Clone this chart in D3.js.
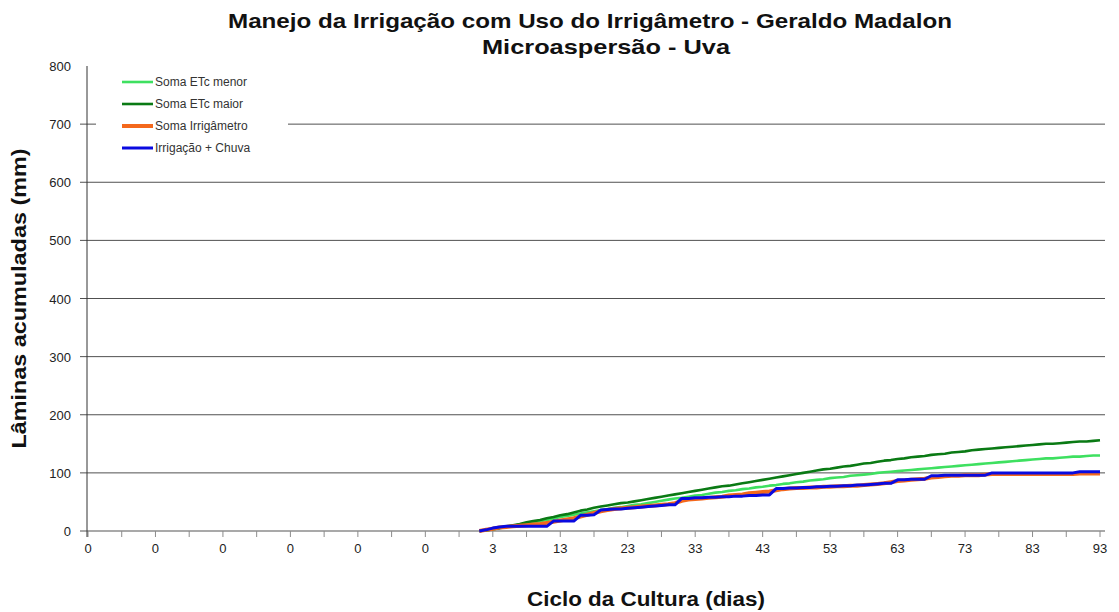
<!DOCTYPE html>
<html>
<head>
<meta charset="utf-8">
<script src="https://cdn.jsdelivr.net/npm/d3@7"></script>
<style>
  body { margin: 0; background: #fff; }
  svg { font-family: "Liberation Sans", Arial, sans-serif; }
</style>
</head>
<body>
<svg id="chart" width="1119" height="612"></svg>
<script>
// rotulos do eixo x (um a cada 10 posicoes)
var rotulosX = ['0','0','0','0','0','0','3','13','23','33','43','53','63','73','83','93'];
var ticksY = [0, 100, 200, 300, 400, 500, 600, 700, 800];
// posicao (indice da categoria) onde as series comecam
var inicio = 58;

// Soma ETc menor
var etcMenor = [0,1,3,5,7,9,11,13,15,
  17,19,21,24,26,28,30,32,34,36,
  38,40,41,43,45,46,48,50,52,54,
  56,57,59,61,62,64,66,67,69,70,
  72,73,75,76,78,79,81,82,84,85,
  87,88,89,91,92,93,95,96,97,98,
  100,101,102,103,104,105,106,107,108,109,
  110,111,112,113,114,115,116,117,118,119,
  120,121,122,123,124,125,125,126,127,128,
  128,129,130,130];

// Soma ETc maior
var etcMaior = [0,1,3,5,8,10,12,15,17,
  19,22,24,27,29,32,35,37,40,42,
  44,46,48,49,51,53,55,57,59,61,
  63,65,67,69,71,73,75,77,78,80,
  82,84,86,88,90,92,94,96,98,100,
  102,104,106,107,109,111,112,114,116,117,
  119,121,122,124,125,127,128,129,131,132,
  133,135,136,137,139,140,141,142,143,144,
  145,146,147,148,149,150,150,151,152,153,
  154,154,155,156];

// Soma Irrigametro
var irrigametro = [0,2,4,6,7,8,9,10,11,
  12,14,16,18,20,22,25,28,31,34,
  36,38,39,40,41,42,43,44,45,46,
  48,52,54,55,56,57,58,59,61,62,
  63,65,66,67,68,70,72,73,74,74,
  75,75,76,76,77,77,78,78,79,80,
  81,82,84,86,87,88,89,90,92,93,
  94,95,95,96,96,96,97,98,98,98,
  98,98,98,98,98,98,98,98,98,98,
  99,99,99,99];

// Irrigacao + Chuva
var irrigChuva = [0,2,5,7,8,8,8,8,8,
  8,8,17,17,17,17,27,27,28,36,
  37,38,38,39,40,41,42,43,44,45,
  45,56,56,57,57,58,58,59,59,60,
  60,61,61,62,62,73,73,74,74,75,
  75,76,76,77,77,78,78,79,79,80,
  81,82,82,88,88,89,89,89,95,95,
  96,96,96,96,96,96,96,100,100,100,
  100,100,100,100,100,100,100,100,100,100,
  102,102,102,102];

var series = [
  { nome: 'Soma ETc menor', valores: etcMenor, cor: '#3ee060', largura: 2.6 },
  { nome: 'Soma ETc maior', valores: etcMaior, cor: '#0a7a14', largura: 2.6 },
  { nome: 'Soma Irrigâmetro', valores: irrigametro, cor: '#f4681c', largura: 4 },
  { nome: 'Irrigação + Chuva', valores: irrigChuva, cor: '#0a0ae0', largura: 3 }
];

var svg = d3.select('#chart');
var plotL = 87, plotR = 1105, plotT = 66, plotB = 531;

var x = d3.scaleLinear().domain([0, 150]).range([88, 1100]);
var y = d3.scaleLinear().domain([0, 800]).range([plotB, plotT]);

// grade horizontal
svg.append('g').selectAll('line')
  .data(ticksY.filter(v => v > 0 && v < 800)).enter().append('line')
  .attr('x1', plotL - 7).attr('x2', plotR)
  .attr('y1', d => y(d)).attr('y2', d => y(d))
  .attr('stroke', '#505050').attr('stroke-width', 1);

// eixo x (linha cinza) e marcas
svg.append('line')
  .attr('x1', plotL - 7).attr('x2', plotR).attr('y1', y(0)).attr('y2', y(0))
  .attr('stroke', '#8c8c8c').attr('stroke-width', 1.5);

svg.append('g').selectAll('line')
  .data(d3.range(0, 151, 5)).enter().append('line')
  .attr('x1', d => x(d)).attr('x2', d => x(d))
  .attr('y1', plotB).attr('y2', plotB + 6)
  .attr('stroke', '#8c8c8c').attr('stroke-width', 1);

svg.append('g').selectAll('text')
  .data(rotulosX).enter().append('text')
  .attr('x', (d, i) => x(i * 10)).attr('y', 553)
  .attr('text-anchor', 'middle')
  .attr('font-size', '13px').attr('fill', '#222')
  .text(d => d);

// eixo y
svg.append('line')
  .attr('x1', plotL).attr('x2', plotL).attr('y1', plotT).attr('y2', plotB + 6)
  .attr('stroke', '#333').attr('stroke-width', 1);

svg.append('g').selectAll('text')
  .data(ticksY).enter().append('text')
  .attr('x', 71).attr('y', d => y(d) + 5)
  .attr('text-anchor', 'end')
  .attr('font-size', '13px').attr('fill', '#222')
  .text(d => d);

// series
var linha = d3.line()
  .x((d, i) => x(inicio + i))
  .y(d => y(d));

svg.append('g').selectAll('path')
  .data(series).enter().append('path')
  .attr('d', d => linha(d.valores))
  .attr('fill', 'none')
  .attr('stroke', d => d.cor)
  .attr('stroke-width', d => d.largura)
  .attr('stroke-linejoin', 'round');

// legenda
var leg = svg.append('g');
leg.append('rect')
  .attr('x', 96).attr('y', 69).attr('width', 192).attr('height', 96)
  .attr('fill', '#fff');
var item = leg.selectAll('g').data(series).enter().append('g')
  .attr('transform', (d, i) => 'translate(0,' + (82 + i * 22) + ')');
item.append('line')
  .attr('x1', 122).attr('x2', 153).attr('y1', 0).attr('y2', 0)
  .attr('stroke', d => d.cor).attr('stroke-width', d => d.largura);
item.append('text')
  .attr('x', 155).attr('y', 4)
  .attr('font-size', '12px').attr('fill', '#333')
  .text(d => d.nome);

// titulos
svg.append('text')
  .attr('x', 590).attr('y', 28).attr('text-anchor', 'middle')
  .attr('font-size', '21px').attr('font-weight', 'bold').attr('fill', '#111')
  .attr('textLength', 724).attr('lengthAdjust', 'spacingAndGlyphs')
  .text('Manejo da Irrigação com Uso do Irrigâmetro - Geraldo Madalon');
svg.append('text')
  .attr('x', 606).attr('y', 54).attr('text-anchor', 'middle')
  .attr('font-size', '21px').attr('font-weight', 'bold').attr('fill', '#111')
  .attr('textLength', 248).attr('lengthAdjust', 'spacingAndGlyphs')
  .text('Microaspersão - Uva');

svg.append('text')
  .attr('x', 646).attr('y', 606).attr('text-anchor', 'middle')
  .attr('font-size', '20px').attr('font-weight', 'bold').attr('fill', '#111')
  .attr('textLength', 238).attr('lengthAdjust', 'spacingAndGlyphs')
  .text('Ciclo da Cultura (dias)');

svg.append('text')
  .attr('transform', 'translate(26,' + ((plotT + plotB) / 2) + ') rotate(-90)')
  .attr('text-anchor', 'middle')
  .attr('font-size', '20px').attr('font-weight', 'bold').attr('fill', '#111')
  .attr('textLength', 300).attr('lengthAdjust', 'spacingAndGlyphs')
  .text('Lâminas acumuladas (mm)');
</script>
</body>
</html>
